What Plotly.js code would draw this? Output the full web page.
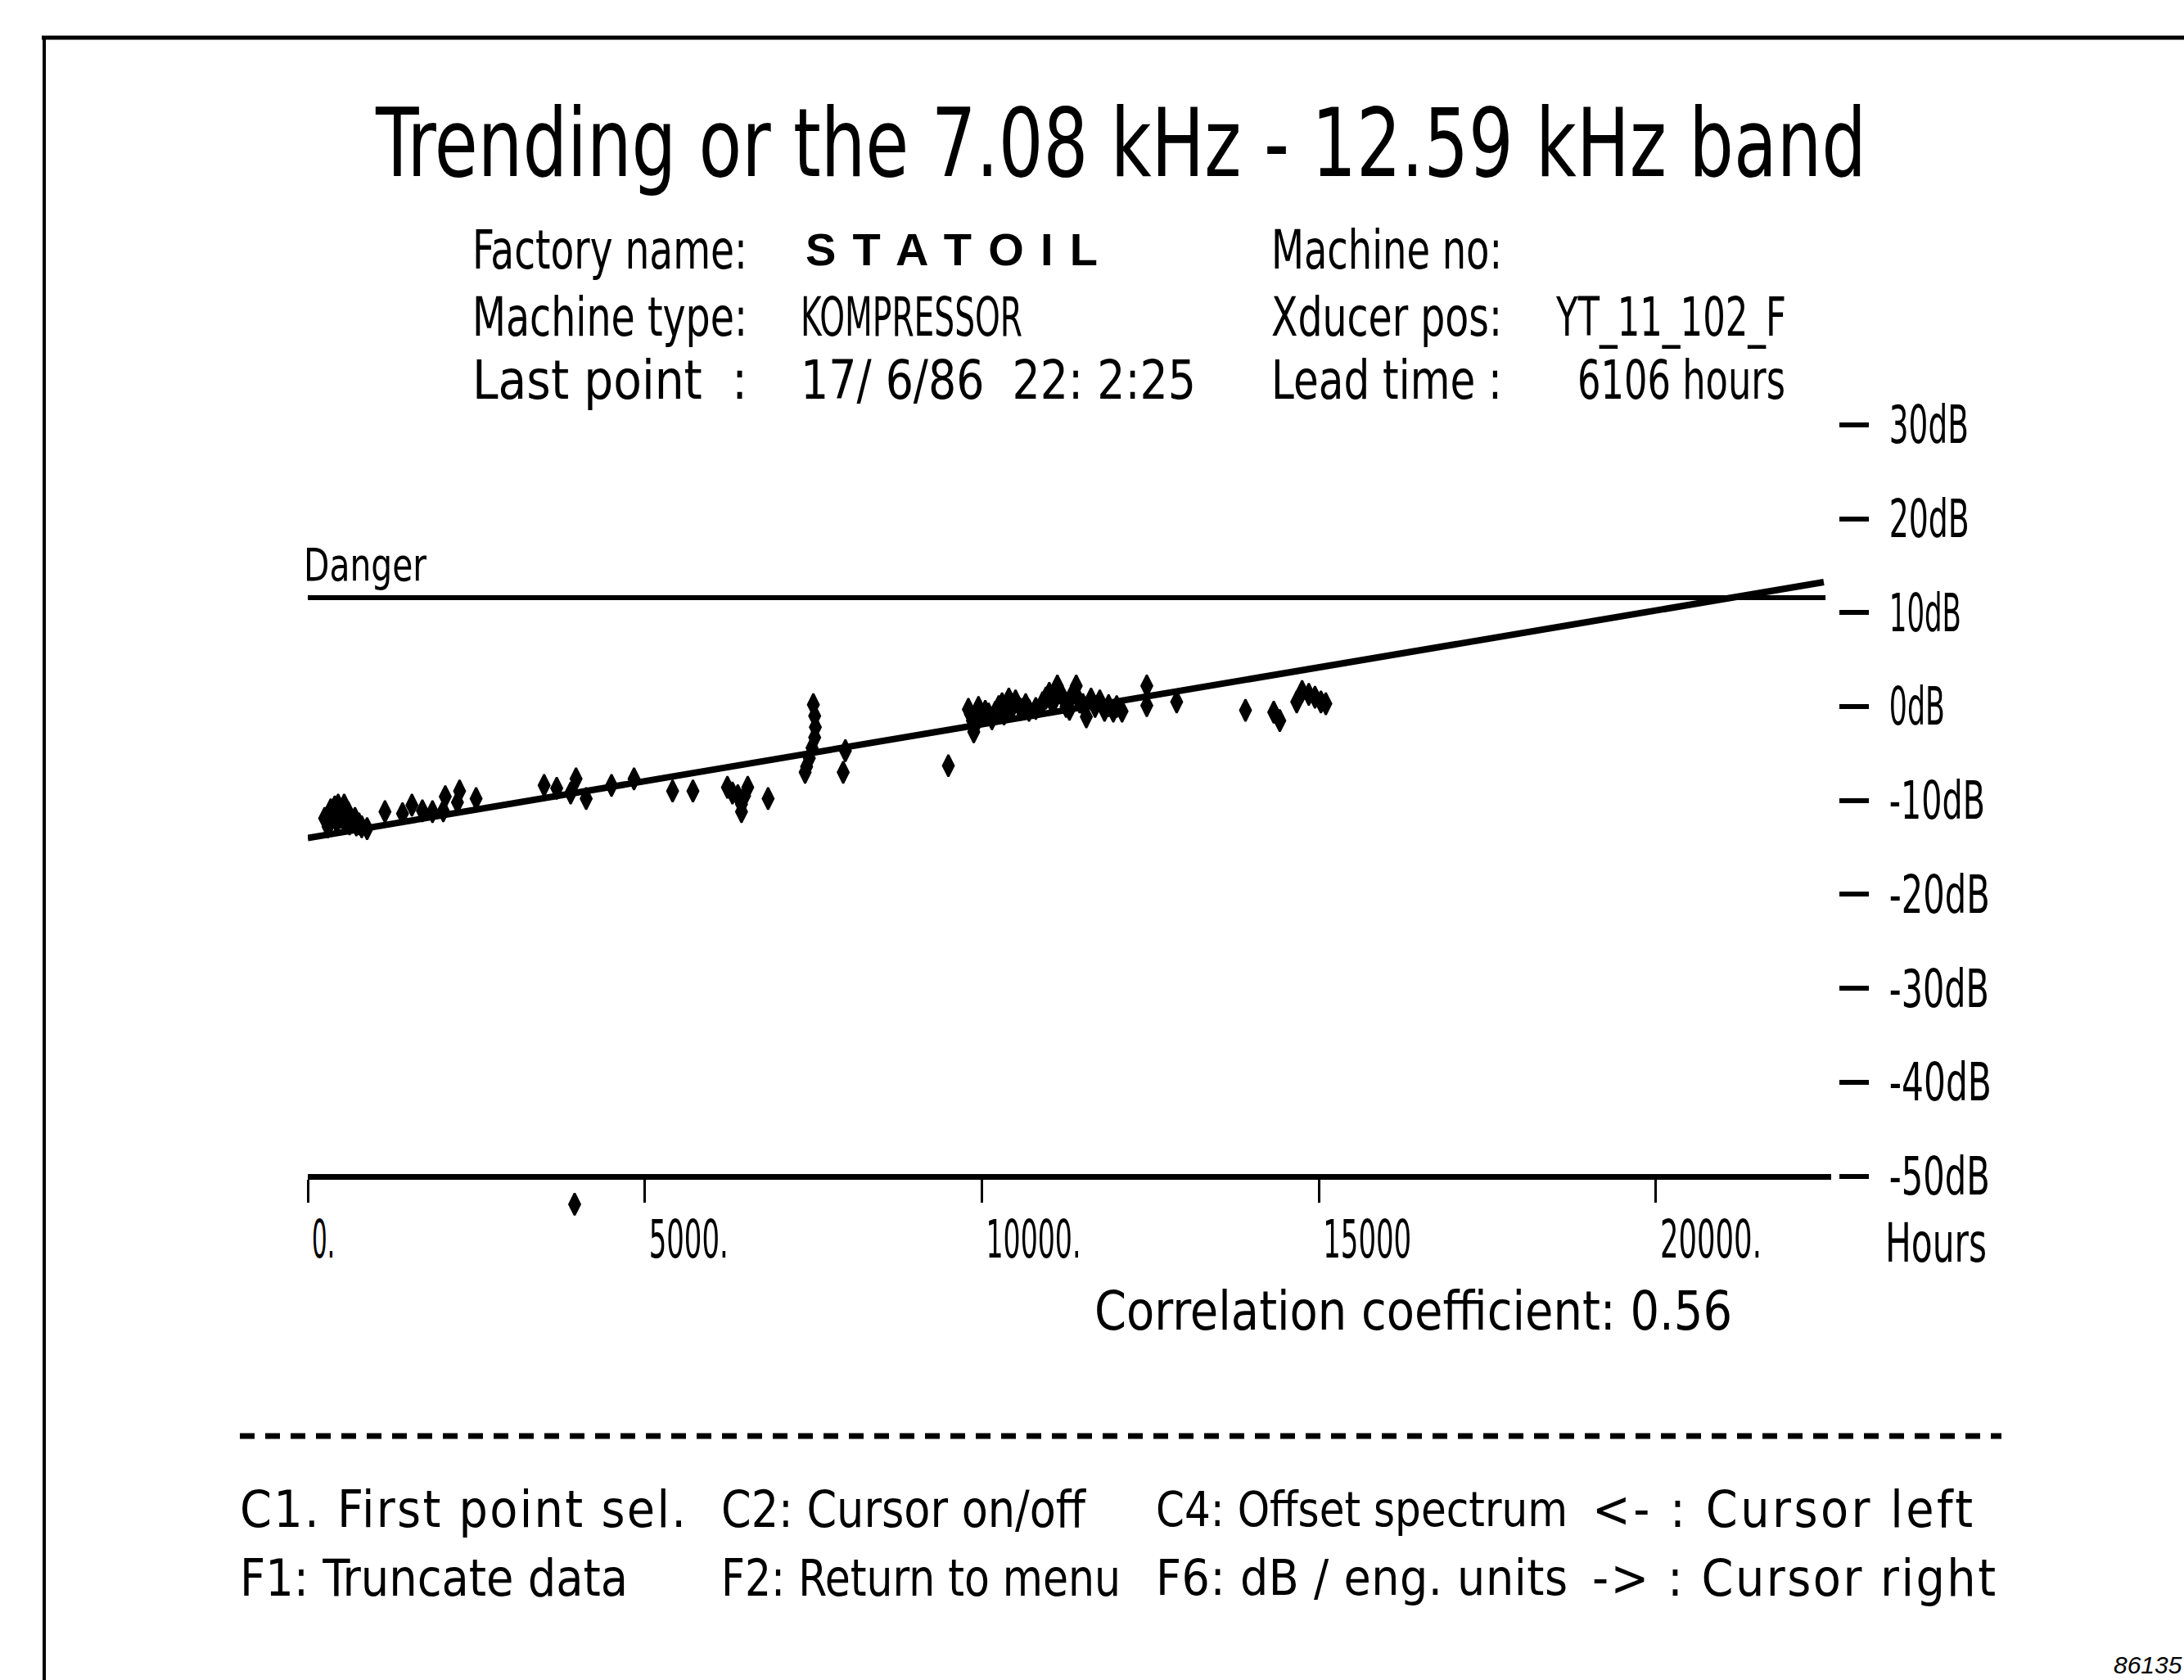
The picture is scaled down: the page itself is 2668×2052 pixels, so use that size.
<!DOCTYPE html>
<html>
<head>
<meta charset="utf-8">
<script src="https://cdn.plot.ly/plotly-3.0.1.min.js"></script>
<style>
html, body { margin: 0; padding: 0; background: #ffffff; }
#chart { width: 2668px; height: 2052px; }
</style>
</head>
<body>
<div id="chart"></div>
<script>
// ---------------- data ----------------
const hours = [
  250, 280, 300, 330, 340, 370, 400, 420, 430, 450, 470, 500, 520, 540, 560, 580, 600, 620, 650, 700, 720, 760, 800, 880,
  1145, 1405, 1545, 1700, 1850, 2010, 2040, 2220, 2252, 2497,
  3506, 3693, 3900, 3980, 4130, 4506, 4840, 5412, 5714,
  6225, 6300, 6527, 6480, 6380, 6434, 6434, 6829,
  7500, 7520, 7530, 7520, 7480, 7440, 7400, 7378, 7975, 7943,
  9503, 3959,
  9800, 9830, 9860, 9880, 9900, 9950, 10000, 10050, 10100, 10150, 10200, 10250, 10300, 10330, 10400, 10450,
  10500, 10580, 10650, 10700, 10800, 10900, 10950, 11000, 11050, 11120, 11150, 11200, 11250, 11300, 11350,
  11400, 11450, 11500, 11550, 11620, 11680, 11750, 11820, 11880, 11950, 12000, 12080,
  12447, 12447, 12890, 13911, 14330, 14420, 14671, 14751, 14850, 14942, 15030, 15103
];
const levelDb = [
  -11.9, -12.0, -12.8, -12.2, -11.0, -11.6, -10.7, -11.2, -12.3, -10.5, -11.0, -11.8, -11.1, -10.5, -12.3, -11.8, -11.3, -12.5, -12.1, -11.9, -12.6, -12.5, -12.8, -13.0,
  -11.2, -11.4, -10.5, -11.1, -11.2, -11.1, -9.6, -10.2, -9.0, -9.8,
  -8.4, -8.7, -9.2, -7.7, -9.8, -8.4, -7.7, -9.0, -9.0,
  -8.6, -9.2, -8.6, -9.5, -9.5, -10.4, -11.2, -9.8,
  0.2, -1.0, -2.2, -3.3, -4.4, -5.5, -6.4, -7.0, -4.7, -7.0,
  -6.3, -53.0,
  -0.3, -0.8, -1.5, -2.7, -2.0, -0.1, -1.0, -0.5, -0.8, -1.3, -0.6, 0.0, 0.3, -0.8, 0.8, -0.1,
  0.6, -0.3, 0.2, -0.4, -0.2, 0.4, 0.9, 1.4, 0.3, 2.2, 1.5, 1.0, 0.0, -0.3, 1.4,
  2.2, 0.5, 0.2, -1.1, 0.8, 0.0, 0.6, -0.4, 0.1, -0.5, 0.0, -0.5,
  2.2, 0.1, 0.5, -0.4, -0.6, -1.5, 0.5, 1.6, 1.3, 1.0, 0.5, 0.3
];
const trendHours = [0, 22490];
const trendDb = [-14.0, 13.25];
const dangerHours = [0, 22516];
const dangerDb = [11.6, 11.6];

const xTickValues = [0, 5000, 10000, 15000, 20000];
const xTickLabels = ["0.", "5000.", "10000.", "15000", "20000."];
const yTickValues = [30, 20, 10, 0, -10, -20, -30, -40, -50];
const yTickLabels = ["30dB", "20dB", "10dB", "0dB", "-10dB", "-20dB", "-30dB", "-40dB", "-50dB"];

const titleText = "Trending or the 7.08 kHz - 12.59 kHz band";

// ---------------- styling / layout helpers ----------------
const W = 2668, H = 2052;
const px2x = p => p / W;
const px2y = p => 1 - p / H;
const FONT = "'Liberation Sans Narrow', 'DejaVu Sans Condensed', 'Liberation Sans', Arial, sans-serif";
const PLAIN = "'Liberation Sans', Arial, sans-serif";
const DB_PX = 11.47;          // pixels per dB
const ZERO_DB_PX = 863;       // pixel row of 0 dB
const dbToPx = d => ZERO_DB_PX - d * DB_PX;

// text blocks: [text, left px, cap-centre px, font size, fitted width px, extra]
const textBlocks = [
  ["Factory name:", 577, 305, 66, 336],
  ["S T A T O I L", 984, 304, 56, 357, {bold: true}],
  ["Machine no:", 1553, 305, 66, 282],
  ["Machine type:", 577, 387, 66, 336],
  ["KOMPRESSOR", 978, 387, 66, 271],
  ["Xducer pos:", 1553, 387, 66, 282],
  ["YT_11_102_F", 1900, 387, 66, 281],
  ["Last point  :", 577, 464, 66, 336],
  ["17/ 6/86  22: 2:25", 978, 464, 66, 483],
  ["Lead time :", 1553, 464, 66, 282],
  ["6106 hours", 1927, 464, 66, 254],
  ["Danger", 371, 689, 56, 150],
  ["Hours", 2303, 1518, 66, 124],
  ["Correlation coefficient: 0.56", 1337, 1601, 66, 779],
  ["C1. First point sel.", 293, 1843, 62, 545],
  ["C2: Cursor on/off", 881, 1843, 62, 445],
  ["C4: Offset spectrum", 1412, 1843, 59, 503],
  ["&lt;- : Cursor left", 1945, 1843, 62, 465],
  ["F1: Truncate data", 293, 1927, 62, 474],
  ["F2: Return to menu", 881, 1927, 62, 488],
  ["F6: dB / eng. units", 1412, 1927, 60, 503],
  ["-&gt; : Cursor right", 1945, 1927, 62, 493],
  ["86135", 2582, 2033, 30, 0, {italic: true}]
];

const annotations = textBlocks.map(b => {
  const extra = b[5] || {};
  const fam = (extra.bold || extra.italic) ? PLAIN : FONT;
  return {
    text: b[0],
    xref: 'paper', yref: 'paper',
    x: px2x(b[1]), y: px2y(b[2]),
    xanchor: 'left', yanchor: 'middle', align: 'left',
    showarrow: false, borderpad: 0, borderwidth: 0,
    font: {family: fam, size: b[3], color: '#000',
           weight: extra.bold ? 'bold' : 'normal',
           style: extra.italic ? 'italic' : 'normal'}
  };
});
const annWidths = textBlocks.map(b => b[4]);

const xTickFit = {"0.": 28, "5000.": 97, "10000.": 116, "15000": 108, "20000.": 124};
const yTickFit = {"30dB": 97, "20dB": 98, "10dB": 88, "0dB": 68, "-10dB": 117,
                  "-20dB": 123, "-30dB": 122, "-40dB": 125, "-50dB": 123};

const traces = [
  {
    type: 'scatter', mode: 'lines', x: dangerHours, y: dangerDb,
    line: {color: '#000', width: 6}, hoverinfo: 'skip', showlegend: false
  },
  {
    type: 'scatter', mode: 'lines', x: trendHours, y: trendDb,
    line: {color: '#000', width: 8}, hoverinfo: 'skip', showlegend: false
  },
  {
    type: 'scatter', mode: 'markers', x: hours, y: levelDb,
    marker: {symbol: 'diamond-tall', size: 19, color: '#000', line: {color: '#000', width: 2.5}},
    cliponaxis: false, showlegend: false
  }
];

const yBottom = -56, yTop = 32;
const layout = {
  width: W, height: H,
  margin: {l: 0, r: 0, t: 0, b: 0, pad: 0},
  paper_bgcolor: '#fff', plot_bgcolor: '#fff',
  showlegend: false,
  title: {
    text: titleText, xref: 'paper', yref: 'paper',
    x: px2x(459), y: px2y(175), xanchor: 'left', yanchor: 'middle',
    font: {family: FONT, size: 115, color: '#000'}
  },
  xaxis: {
    domain: [px2x(376), px2x(2237)], range: [0, 22600],
    anchor: 'free', position: px2y(dbToPx(-50)),
    showline: true, linewidth: 7, linecolor: '#000',
    ticks: 'outside', ticklen: 28, tickwidth: 3, tickcolor: '#000',
    tickmode: 'array', tickvals: xTickValues, ticktext: xTickLabels,
    ticklabelposition: 'outside right', ticklabelstandoff: 19,
    tickfont: {family: FONT, size: 64, color: '#000'},
    showgrid: false, zeroline: false, fixedrange: true
  },
  yaxis: {
    domain: [px2y(dbToPx(yBottom)), px2y(dbToPx(yTop))], range: [yBottom, yTop],
    side: 'right', anchor: 'free', position: px2x(2246),
    showline: false, ticks: 'outside', ticklen: 36, tickwidth: 6, tickcolor: '#000',
    tickmode: 'array', tickvals: yTickValues, ticktext: yTickLabels,
    ticklabelstandoff: 12,
    tickfont: {family: FONT, size: 64, color: '#000'},
    showgrid: false, zeroline: false, fixedrange: true
  },
  shapes: [
    {type: 'line', xref: 'paper', yref: 'paper', x0: px2x(51), x1: 1, y0: px2y(46), y1: px2y(46),
     line: {color: '#000', width: 5}},
    {type: 'line', xref: 'paper', yref: 'paper', x0: px2x(54), x1: px2x(54), y0: px2y(46), y1: 0,
     line: {color: '#000', width: 4}},
    {type: 'line', xref: 'paper', yref: 'paper', x0: px2x(293), x1: px2x(2445), y0: px2y(1754), y1: px2y(1754),
     line: {color: '#000', width: 7, dash: '18px,13px'}}
  ],
  annotations: annotations
};

function fitText(el, w) {
  if (!el || !w) return;
  const lines = el.querySelectorAll('tspan.line');
  const target = lines.length === 1 ? lines[0] : el;
  let natural = 0;
  try { natural = target.getComputedTextLength(); } catch (e) { natural = 0; }
  target.setAttribute('textLength', w);
  target.setAttribute('lengthAdjust', natural > w ? 'spacingAndGlyphs' : 'spacing');
}

Plotly.newPlot('chart', traces, layout, {staticPlot: true, displayModeBar: false}).then(() => {
  document.querySelectorAll('g.annotation').forEach(g => {
    const i = +g.getAttribute('data-index');
    fitText(g.querySelector('text.annotation-text'), annWidths[i]);
  });
  fitText(document.querySelector('.gtitle'), 1821);
  document.querySelectorAll('.xtick text').forEach(t => fitText(t, xTickFit[t.textContent]));
  document.querySelectorAll('.ytick text').forEach(t => fitText(t, yTickFit[t.textContent]));
});
</script>
</body>
</html>
